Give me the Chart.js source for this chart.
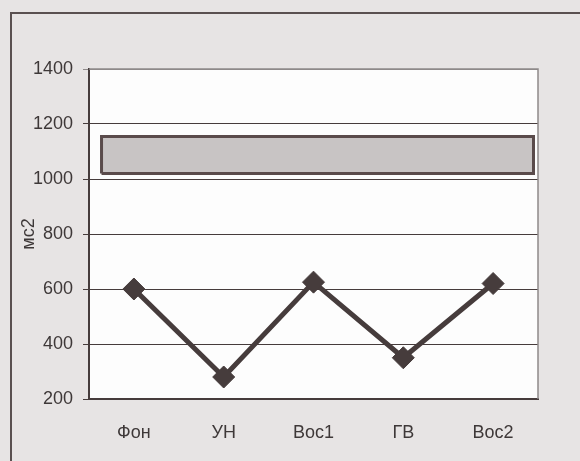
<!DOCTYPE html>
<html>
<head>
<meta charset="utf-8">
<script src="https://cdn.jsdelivr.net/npm/chart.js@4/dist/chart.umd.min.js"></script>
<style>
  html, body { margin: 0; padding: 0; background: #e7e4e4; }
  body { width: 580px; height: 461px; position: relative; overflow: hidden; }
  #frame {
    position: absolute; left: 10px; top: 12px; width: 600px; height: 480px;
    border-left: 2px solid #5a5050; border-top: 2px solid #5a5050;
  }
  #wrap { position: absolute; left: 0; top: 0; width: 580px; height: 461px; }
</style>
</head>
<body>
<div id="frame"></div>
<div id="wrap"><canvas id="c" width="580" height="461"></canvas></div>
<script>
const categories = ['Фон', 'УН', 'Вос1', 'ГВ', 'Вос2'];
const values = [600, 280, 625, 350, 620];
const normRange = [1020, 1155];
const yTicks = [200, 400, 600, 800, 1000, 1200, 1400];
const yTitle = 'мс2';

const ink = '#463c3c';

// closed outline of the norm band, spanning the whole band axis (0..1)
const bandOutline = [
  { x: 0, y: normRange[0] },
  { x: 0, y: normRange[1] },
  { x: 1, y: normRange[1] },
  { x: 1, y: normRange[0] },
  { x: 0, y: normRange[0] }
];

// white plot area plus a light frame on the top and right edges
const plotArea = {
  id: 'plotArea',
  beforeDraw(chart) {
    const { ctx, chartArea: a } = chart;
    ctx.save();
    ctx.fillStyle = '#fdfdfd';
    ctx.fillRect(a.left, a.top, a.right - a.left, a.bottom - a.top);
    ctx.restore();
  },
  beforeDatasetsDraw(chart) {
    const { ctx, chartArea: a } = chart;
    ctx.save();
    ctx.strokeStyle = '#8f8989';
    ctx.lineWidth = 1.5;
    ctx.beginPath();
    ctx.moveTo(a.left, a.top);
    ctx.lineTo(a.right, a.top);
    ctx.lineTo(a.right, a.bottom);
    ctx.stroke();
    ctx.restore();
  }
};

const labelFont = { family: 'Liberation Sans', size: 18 };

new Chart(document.getElementById('c'), {
  type: 'line',
  data: {
    labels: categories,
    datasets: [
      {
        data: values,
        xAxisID: 'x',
        order: 0,
        borderColor: ink,
        borderWidth: 5,
        pointStyle: 'rectRot',
        pointRadius: 11,
        pointBackgroundColor: ink,
        pointBorderColor: ink,
        pointBorderWidth: 1,
        tension: 0
      },
      {
        data: bandOutline,
        xAxisID: 'x2',
        order: 1,
        parsing: { xAxisKey: 'x', yAxisKey: 'y' },
        backgroundColor: '#c8c4c4',
        borderColor: '#5a4b4b',
        borderWidth: 3,
        borderJoinStyle: 'miter',
        fill: 'shape',
        pointRadius: 0,
        tension: 0
      }
    ]
  },
  options: {
    responsive: false,
    animation: false,
    events: [],
    layout: { padding: { left: 0, top: 69, right: 42, bottom: 0 } },
    plugins: { legend: { display: false }, tooltip: { enabled: false } },
    scales: {
      x: {
        type: 'category',
        offset: true,
        grid: { display: false, drawTicks: false },
        border: { display: true, color: ink, width: 2 },
        ticks: { color: '#3e3838', font: labelFont, padding: 23 },
        afterFit(s) { s.height = 62; }
      },
      x2: {
        type: 'linear',
        min: -0.029,
        max: 1.0104,
        display: false
      },
      y: {
        type: 'linear',
        min: 200,
        max: 1400,
        afterBuildTicks(s) { s.ticks = yTicks.map(v => ({ value: v })); },
        grid: {
          color: c => (c.tick && c.tick.value === 1400 ? '#8f8989' : ink),
          lineWidth: 1,
          tickLength: 6,
          drawTicks: true
        },
        border: { display: true, color: ink, width: 2 },
        ticks: {
          color: '#3e3838',
          font: labelFont,
          padding: 10,
          callback: v => String(v)
        },
        title: {
          display: true,
          text: yTitle,
          color: '#3e3838',
          font: { family: 'Liberation Sans', size: 18 },
          padding: { top: 18, bottom: 0 }
        },
        afterFit(s) { s.width = 89; }
      }
    }
  },
  plugins: [plotArea]
});
</script>
</body>
</html>
